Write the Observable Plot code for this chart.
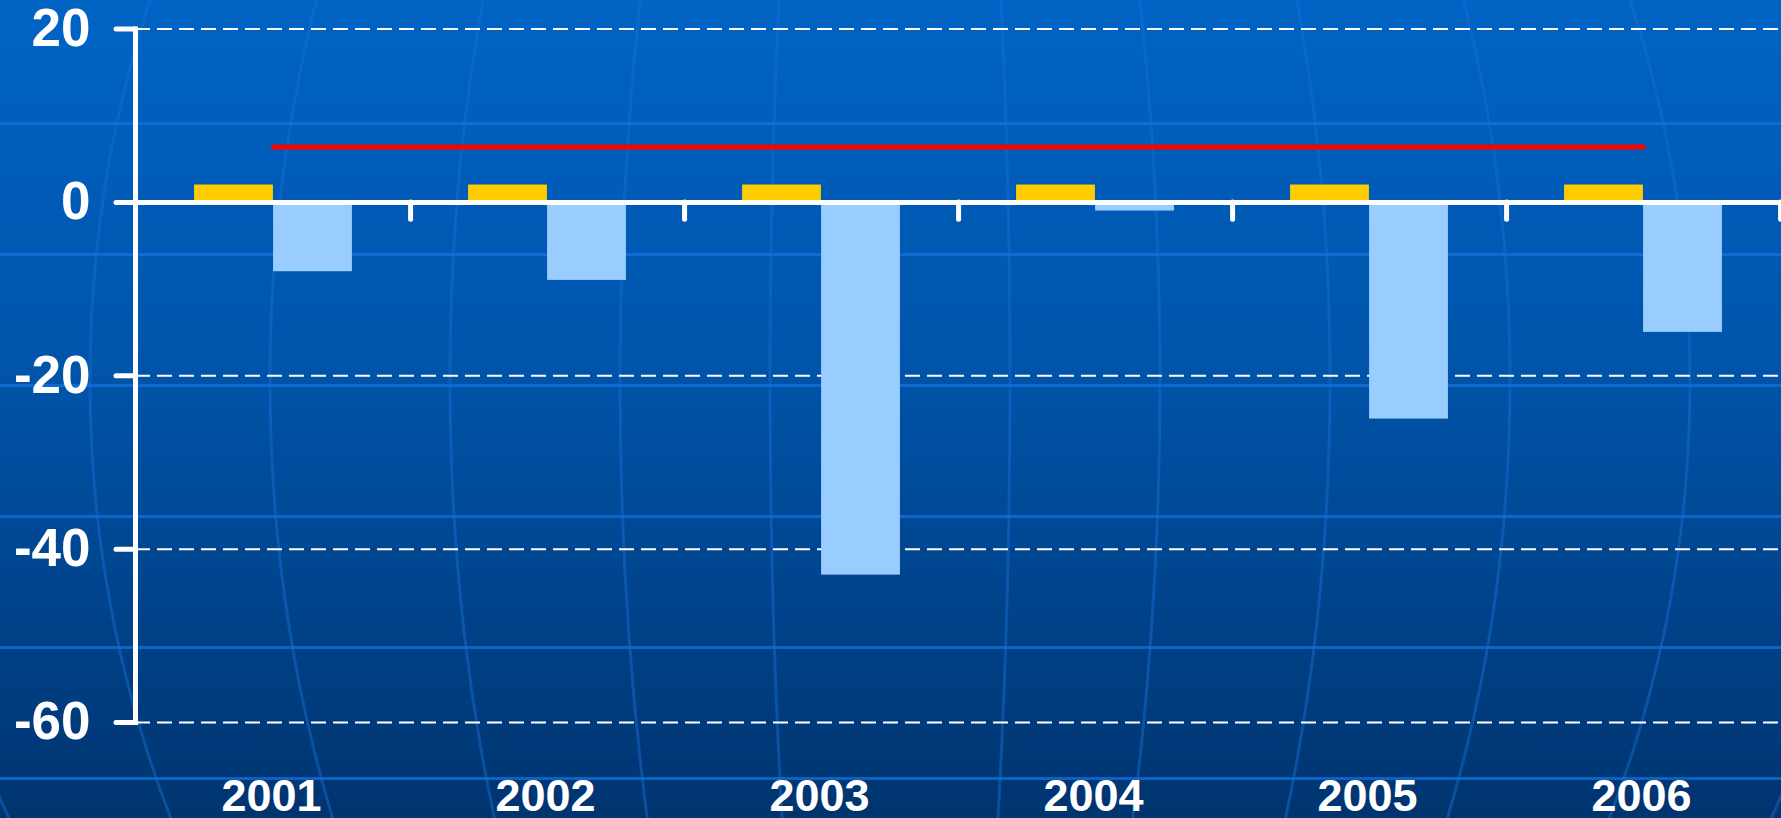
<!DOCTYPE html>
<html>
<head>
<meta charset="utf-8">
<script src="https://cdn.jsdelivr.net/npm/d3@7"></script>
<script src="https://cdn.jsdelivr.net/npm/@observablehq/plot@0.6"></script>
<style>
  html, body { margin: 0; padding: 0; }
  body {
    width: 1781px; height: 818px; overflow: hidden;
    background-color: #004a98;
    background-image:
      url("data:image/svg+xml;utf8,<svg xmlns='http://www.w3.org/2000/svg' width='1781' height='818'><g fill='none' stroke='rgb(25,110,215)' stroke-opacity='0.45' stroke-width='3'><ellipse cx='890' cy='380' rx='120' ry='1000'/><ellipse cx='890' cy='380' rx='270' ry='1000'/><ellipse cx='890' cy='380' rx='440' ry='1000'/><ellipse cx='890' cy='380' rx='620' ry='1000'/><ellipse cx='890' cy='380' rx='800' ry='1000'/><ellipse cx='890' cy='380' rx='980' ry='1000'/></g></svg>"),
      repeating-linear-gradient(to bottom, transparent 0px, transparent 122px, rgba(20,115,225,0.7) 122px, rgba(20,115,225,0.7) 125px, transparent 125px, transparent 131px),
      linear-gradient(to bottom, #0064c5 0%, #0054aa 45%, #00346f 100%);
    background-repeat: no-repeat, repeat, no-repeat;
    font-family: "Liberation Sans", Arial, sans-serif;
  }
  #chart svg { display: block; }
</style>
</head>
<body>
<div id="chart"></div>
<script>
const years = ["2001", "2002", "2003", "2004", "2005", "2006"];
const seriesA = [2, 2, 2, 2, 2, 2];            // yellow bars
const seriesB = [-8, -9, -43, -1, -25, -15];   // light blue bars
const lineValues = [6.4, 6.4, 6.4, 6.4, 6.4, 6.4]; // red line
const yTicks = [20, 0, -20, -40, -60];
const gridTicks = [20, -20, -40, -60];

const W = 1781, H = 818;
const mL = 135, mR = 1;
const step = (W - mL - mR) / years.length;
const barW = 79;

const dataA = years.map((y, i) => ({year: y, value: seriesA[i]}));
const dataB = years.map((y, i) => ({year: y, value: seriesB[i]}));
const dataL = years.map((y, i) => ({year: y, value: lineValues[i]}));

const chart = Plot.plot({
  width: W,
  height: H,
  marginLeft: mL,
  marginRight: mR,
  marginTop: 28.5,
  marginBottom: 96,
  style: {background: "transparent", color: "white", fontFamily: "'Liberation Sans', Arial, sans-serif", overflow: "visible"},
  x: {type: "band", domain: years, padding: 0, label: null},
  y: {domain: [-60, 20], ticks: yTicks, label: null},
  marks: [
    Plot.gridY(gridTicks, {stroke: "white", strokeOpacity: 1, strokeWidth: 2, strokeDasharray: "15,7"}),
    Plot.barY(dataA, {x: "year", y: "value", fill: "#ffcc00", insetLeft: step / 2 - barW, insetRight: step / 2}),
    Plot.barY(dataB, {x: "year", y: "value", fill: "#99ccff", insetLeft: step / 2, insetRight: step / 2 - barW}),
    Plot.ruleY([0], {stroke: "white", strokeWidth: 5}),
    Plot.ruleX(years, {x: d => d, dx: step / 2, y1: 0, y2: -2, stroke: "white", strokeWidth: 5, strokeLinecap: "round"}),
    Plot.lineY(dataL, {x: "year", y: "value", stroke: "#ff0000", strokeWidth: 5, strokeLinecap: "round"}),
    Plot.axisY({ticks: yTicks, label: null, tickSize: 19, tickPadding: 26, fontSize: 53, fontWeight: "bold", stroke: "white", strokeWidth: 5, strokeLinecap: "round", tickFormat: d => String(d)}),
    Plot.frame({anchor: "left", stroke: "white", strokeWidth: 5}),
    Plot.axisX({label: null, tickSize: 0, tickPadding: 57, fontSize: 45, fontWeight: "bold", dx: -2})
  ]
});
document.getElementById("chart").appendChild(chart);
</script>
</body>
</html>
